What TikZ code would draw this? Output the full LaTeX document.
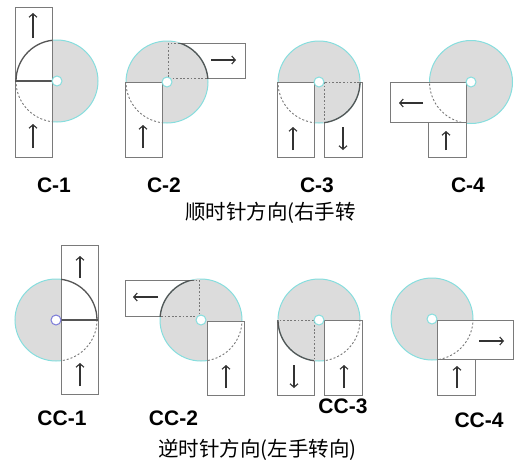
\documentclass[tikz,border=0pt]{standalone}
\usepackage{fontspec}
\setmainfont{Liberation Sans}
\newfontfamily\cjk{Noto Sans CJK SC}
\usetikzlibrary{arrows.meta}
\definecolor{diskgray}{HTML}{DCDCDC}
\definecolor{cyanline}{HTML}{86DEDE}
\definecolor{boxgray}{HTML}{7A7A7A}
\definecolor{arcdark}{HTML}{555555}
\definecolor{arcgray}{HTML}{777777}
\definecolor{arrowdark}{HTML}{333333}
\definecolor{hubblue}{HTML}{7B7BD8}
\tikzset{
  disk/.style={fill=diskgray, draw=cyanline, line width=1pt},
  box/.style={draw=boxgray, line width=0.9pt},
  wbox/.style={box, fill=white},
  solidarc/.style={draw=arcdark, line width=1.3pt},
  dasharc/.style={draw=arcgray, line width=0.9pt, dash pattern=on 2pt off 2pt},
  erase/.style={draw=diskgray, line width=1.8pt},
  dotbox/.style={draw=arcgray, line width=0.9pt, dash pattern=on 1.8pt off 1.8pt},
  hub/.style={fill=white, draw=cyanline, line width=1pt},
  arr/.style={-{Straight Barb[length=3.5pt,width=8pt]}, line width=1.1pt, draw=arrowdark},
  lab/.style={font=\fontsize{21}{21}\selectfont\bfseries, text=black, inner sep=0pt},
  captxt/.style={font=\cjk\fontsize{20.5}{20.5}\selectfont, text=black, inner sep=0pt}
}
% white-filled box, disk boundary inside it dashed
\newcommand\whitebox[4]{%
  \draw[wbox] #1 rectangle #2;
  \begin{scope}\clip #1 rectangle #2; \draw[dasharc] #3 circle[radius=#4]; \end{scope}}
% see-through box: edges inside disk dotted, disk boundary inside box solid
\newcommand\clearbox[4]{%
  \draw[box] #1 rectangle #2;
  \begin{scope}\clip #3 circle[radius=#4];
    \draw[erase] #1 rectangle #2; \draw[dotbox] #1 rectangle #2; \end{scope}
  \begin{scope}\clip #1 rectangle #2; \draw[solidarc] #3 circle[radius=#4]; \end{scope}}
\begin{document}
\begin{tikzpicture}[x=1pt,y=-1pt]
\useasboundingbox[fill=white] (0,0) rectangle (515,466);

% ---------- C-1 ----------
\coordinate (c1) at (57,81);
\draw[disk] (c1) circle[radius=41pt];
\draw[wbox] (15,7) rectangle (52,157);
\begin{scope}\clip (15,7) rectangle (52,81); \draw[solidarc] (c1) circle[radius=41pt]; \end{scope}
\begin{scope}\clip (15,81) rectangle (52,157); \draw[dasharc] (c1) circle[radius=41pt]; \end{scope}
\coordinate (c1l) at (15,81); \coordinate (c1r) at (52,81);
\draw[solidarc] (c1l) -- (c1r);
\draw[hub] (c1) circle[radius=5pt];
\coordinate (a1s) at (33,38); \coordinate (a1e) at (33,13);
\coordinate (a2s) at (33,148); \coordinate (a2e) at (33,124);
\draw[arr] (a1s) -- (a1e);
\draw[arr] (a2s) -- (a2e);
\node[lab] (l1) at (54,185) {C-1};

% ---------- C-2 ----------
\coordinate (c2) at (167,82);
\draw[disk] (c2) circle[radius=41pt];
\whitebox{(125,82)}{(162,157)}{(c2)}{41pt}
\clearbox{(168,43)}{(245,78)}{(c2)}{41pt}
\draw[hub] (c2) circle[radius=5pt];
\coordinate (b1s) at (211,60); \coordinate (b1e) at (236,60);
\coordinate (b2s) at (143,148); \coordinate (b2e) at (143,125);
\draw[arr] (b1s) -- (b1e);
\draw[arr] (b2s) -- (b2e);
\node[lab] (l2) at (164,185) {C-2};

% ---------- C-3 ----------
\coordinate (c3) at (319,82);
\draw[disk] (c3) circle[radius=41pt];
\whitebox{(277,82)}{(314,157)}{(c3)}{41pt}
\clearbox{(324,82)}{(362,157)}{(c3)}{41pt}
\draw[hub] (c3) circle[radius=5pt];
\coordinate (d1s) at (293,150); \coordinate (d1e) at (293,127);
\coordinate (d2s) at (343,127); \coordinate (d2e) at (343,150);
\draw[arr] (d1s) -- (d1e);
\draw[arr] (d2s) -- (d2e);
\node[lab] (l3) at (317,185) {C-3};

% ---------- C-4 ----------
\coordinate (c4) at (471,82);
\draw[disk] (c4) circle[radius=41.5pt];
\whitebox{(390,82)}{(466,122)}{(c4)}{41.5pt}
\draw[wbox] (428,122) rectangle (466,157);
\draw[hub] (c4) circle[radius=5pt];
\coordinate (e1s) at (423,103); \coordinate (e1e) at (399,103);
\coordinate (e2s) at (446,150); \coordinate (e2e) at (446,131);
\draw[arr] (e1s) -- (e1e);
\draw[arr] (e2s) -- (e2e);
\node[lab] (l4) at (468,185) {C-4};

\node[captxt] (cap1) at (270.5,213) {顺时针方向(右手转};

% ---------- CC-1 ----------
\coordinate (k1) at (56,320);
\draw[disk] (k1) circle[radius=41pt];
\draw[wbox] (61,245) rectangle (98,394);
\begin{scope}\clip (61,245) rectangle (98,320); \draw[solidarc] (k1) circle[radius=41pt]; \end{scope}
\begin{scope}\clip (61,320) rectangle (98,394); \draw[dasharc] (k1) circle[radius=41pt]; \end{scope}
\coordinate (k1l) at (61,320); \coordinate (k1r) at (98,320);
\draw[solidarc] (k1l) -- (k1r);
\draw[fill=white, draw=hubblue, line width=1pt] (k1) circle[radius=5pt];
\coordinate (f1s) at (80,278); \coordinate (f1e) at (80,256);
\coordinate (f2s) at (80,386); \coordinate (f2e) at (80,363);
\draw[arr] (f1s) -- (f1e);
\draw[arr] (f2s) -- (f2e);
\node[lab] (m1) at (62,418) {CC-1};

% ---------- CC-2 ----------
\coordinate (k2) at (201,320);
\draw[disk] (k2) circle[radius=41pt];
\whitebox{(207,321)}{(244,395)}{(k2)}{41pt}
\clearbox{(125,280)}{(199,316)}{(k2)}{41pt}
\draw[hub] (k2) circle[radius=5pt];
\coordinate (g1s) at (158,297); \coordinate (g1e) at (133,297);
\coordinate (g2s) at (226,388); \coordinate (g2e) at (226,365);
\draw[arr] (g1s) -- (g1e);
\draw[arr] (g2s) -- (g2e);
\node[lab] (m2) at (173.5,418) {CC-2};

% ---------- CC-3 ----------
\coordinate (k3) at (319,320);
\draw[disk] (k3) circle[radius=41pt];
\whitebox{(324,320)}{(362,395)}{(k3)}{41pt}
\clearbox{(277,320)}{(314,395)}{(k3)}{41pt}
\draw[hub] (k3) circle[radius=5pt];
\coordinate (h1s) at (294,365); \coordinate (h1e) at (294,388);
\coordinate (h2s) at (344,388); \coordinate (h2e) at (344,365);
\draw[arr] (h1s) -- (h1e);
\draw[arr] (h2s) -- (h2e);
\node[lab] (m3) at (343,406) {CC-3};

% ---------- CC-4 ----------
\coordinate (k4) at (432,319);
\draw[disk] (k4) circle[radius=41pt];
\whitebox{(437,320)}{(513,359)}{(k4)}{41pt}
\draw[wbox] (437,359) rectangle (475,395);
\draw[hub] (k4) circle[radius=5pt];
\coordinate (j1s) at (479,341); \coordinate (j1e) at (504,341);
\coordinate (j2s) at (457,388); \coordinate (j2e) at (457,366);
\draw[arr] (j1s) -- (j1e);
\draw[arr] (j2s) -- (j2e);
\node[lab] (m4) at (479,420) {CC-4};

\node[captxt] (cap2) at (257.5,450) {逆时针方向(左手转向)};
\end{tikzpicture}
\end{document}
